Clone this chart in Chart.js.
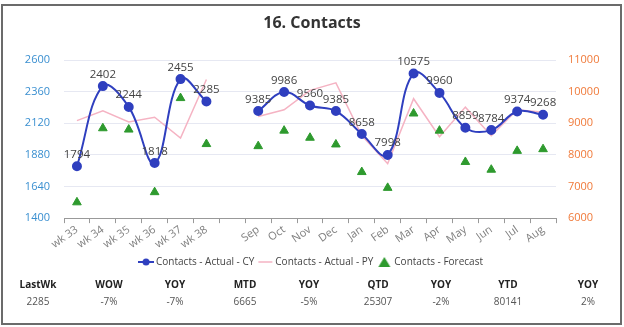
<!DOCTYPE html>
<html>
<head>
<meta charset="utf-8">
<script src="https://cdn.jsdelivr.net/npm/chart.js@4"></script>
<style>
  body { margin: 0; background: #fff; font-family: "Open Sans", "Noto Sans", sans-serif; }
  #frame { position: absolute; left: 1px; top: 4px; width: 617px; height: 317px; border: 2px solid #6b6b6b; }
  #title { position: absolute; left: 0; top: 11px; width: 624px; text-align: center; font-size: 16px; font-weight: bold; color: #333; }
  #wrap { position: absolute; left: 0; top: 0; width: 624px; height: 281px; }
  .kpi { position: absolute; width: 70px; text-align: center; font-size: 10px; }
  .kpi b { display: block; color: #222; }
  .kpi span { display: block; color: #555; margin-top: 3px; }
</style>
</head>
<body>
<div id="frame"></div>
<div id="wrap"><canvas id="contactsChart"></canvas></div>
<div id="title">16. Contacts</div>
<div id="kpis"></div>
<script>
// categories on the x axis (blank slot between weeks and months)
var categories = ['wk 33', 'wk 34', 'wk 35', 'wk 36', 'wk 37', 'wk 38', '',
    'Sep', 'Oct', 'Nov', 'Dec', 'Jan', 'Feb', 'Mar', 'Apr', 'May', 'Jun', 'Jul', 'Aug'];

// weekly values (left axis)
var weekCY = [1794, 2402, 2244, 1818, 2455, 2285];
var weekPY = [2140, 2214, 2130, 2166, 2008, 2452];
var weekForecast = [1520, 2082, 2072, 1597, 2311, 1962];

// monthly values (right axis)
var monthCY = [9385, 9986, 9560, 9385, 8658, 7998, 10575, 9960, 8859, 8784, 9374, 9268];
var monthPY = [9213, 9425, 10040, 10277, 8610, 7723, 9776, 8574, 9510, 8606, 9425, 9351];
var monthForecast = [8276, 8766, 8542, 8330, 7457, 6957, 9308, 8766, 7776, 7531, 8127, 8180];

// summary row under the chart
var kpiLabels = ['LastWk', 'WOW', 'YOY', 'MTD', 'YOY', 'QTD', 'YOY', 'YTD', 'YOY'];
var kpiValues = ['2285', '-7%', '-7%', '6665', '-5%', '25307', '-2%', '80141', '2%'];

var nWeeks = weekCY.length;
var nGap = categories.length - nWeeks - monthCY.length;

function asWeek(arr) {
    return arr.concat(new Array(categories.length - arr.length).fill(null));
}
function asMonth(arr) {
    return new Array(nWeeks + nGap).fill(null).concat(arr);
}

var cyColor = '#2f3fbf';
var pyColor = '#f5b3c3';
var fcColor = '#2e9a2e';

// little legend icons
function legendIcon(kind) {
    var c = document.createElement('canvas');
    c.width = 16; c.height = 10;
    var g = c.getContext('2d');
    if (kind === 'cy') {
        g.strokeStyle = cyColor; g.lineWidth = 2;
        g.beginPath(); g.moveTo(0, 5); g.lineTo(16, 5); g.stroke();
        g.fillStyle = cyColor;
        g.beginPath(); g.arc(8, 5, 3.5, 0, Math.PI * 2); g.fill();
    } else if (kind === 'py') {
        g.strokeStyle = pyColor; g.lineWidth = 1.5;
        g.beginPath(); g.moveTo(1, 5); g.lineTo(15, 5); g.stroke();
    } else {
        g.fillStyle = fcColor;
        g.beginPath(); g.moveTo(8, 0); g.lineTo(14, 10); g.lineTo(2, 10); g.closePath(); g.fill();
    }
    return c;
}

function cySet(data, axis, show) {
    return {
        label: 'Contacts - Actual - CY', data: data, yAxisID: axis, inLegend: show, icon: 'cy',
        borderColor: cyColor, backgroundColor: cyColor, borderWidth: 2,
        pointRadius: 4, pointHoverRadius: 4, tension: 0.4, showValues: true, order: 1
    };
}
function pySet(data, axis, show) {
    return {
        label: 'Contacts - Actual - PY', data: data, yAxisID: axis, inLegend: show, icon: 'py',
        borderColor: pyColor, backgroundColor: pyColor, borderWidth: 1.5,
        pointRadius: 0, tension: 0, order: 3
    };
}
function fcSet(data, axis, show) {
    return {
        label: 'Contacts - Forecast', data: data, yAxisID: axis, inLegend: show, icon: 'fc',
        borderColor: fcColor, backgroundColor: fcColor, showLine: false,
        pointStyle: 'triangle', pointRadius: 5, order: 2
    };
}

// draws the value above each CY point
var valueLabels = {
    id: 'valueLabels',
    afterDatasetsDraw: function(chart) {
        var ctx = chart.ctx;
        ctx.save();
        ctx.font = '11.5px "Open Sans", sans-serif';
        ctx.fillStyle = '#444';
        ctx.textAlign = 'center';
        ctx.textBaseline = 'bottom';
        chart.data.datasets.forEach(function(ds, i) {
            if (!ds.showValues) return;
            chart.getDatasetMeta(i).data.forEach(function(pt, j) {
                if (ds.data[j] == null) return;
                ctx.fillText(ds.data[j], pt.x, pt.y - 6);
            });
        });
        ctx.restore();
    }
};

var ctx = document.getElementById('contactsChart').getContext('2d');
var contactsChart = new Chart(ctx, {
    type: 'line',
    data: {
        labels: categories,
        datasets: [
            cySet(asWeek(weekCY), 'y', true),
            pySet(asWeek(weekPY), 'y', true),
            fcSet(asWeek(weekForecast), 'y', true),
            cySet(asMonth(monthCY), 'y1', false),
            pySet(asMonth(monthPY), 'y1', false),
            fcSet(asMonth(monthForecast), 'y1', false)
        ]
    },
    options: {
        responsive: true,
        maintainAspectRatio: false,
        animation: false,
        spanGaps: false,
        layout: { padding: { top: 60, left: 0, right: 0, bottom: 4 } },
        plugins: {
            tooltip: { enabled: false },
            legend: {
                position: 'bottom',
                labels: {
                    usePointStyle: true,
                    boxHeight: 10,
                    padding: 6,
                    color: '#444',
                    font: { size: 10, family: '"Open Sans", sans-serif' },
                    generateLabels: function(chart) {
                        return chart.data.datasets
                            .filter(function(ds) { return ds.inLegend; })
                            .map(function(ds, i) {
                                return {
                                    text: ds.label, pointStyle: legendIcon(ds.icon),
                                    fillStyle: ds.backgroundColor, strokeStyle: ds.borderColor,
                                    lineWidth: 0, hidden: false, datasetIndex: i, fontColor: '#444'
                                };
                            });
                    }
                }
            }
        },
        scales: {
            x: {
                offset: true,
                grid: { display: true, drawOnChartArea: false, drawTicks: true, tickLength: 5, offset: true, color: '#999' },
                border: { display: true, color: '#999' },
                ticks: { color: '#808080', minRotation: 35, maxRotation: 35, autoSkip: false, padding: 0,
                         font: { size: 11, family: '"Open Sans", sans-serif' } }
            },
            y: {
                position: 'left',
                min: 1400, max: 2600,
                ticks: { stepSize: 240, color: '#3a8fd0', padding: 14,
                         callback: function(v) { return String(v); },
                         font: { size: 11, family: '"Open Sans", sans-serif' } },
                grid: { color: '#e6e8f2', drawTicks: false },
                border: { display: false },
                afterFit: function(scale) { scale.width = 64; }
            },
            y1: {
                position: 'right',
                min: 6000, max: 11000,
                ticks: { stepSize: 1000, color: '#f07a3a', padding: 12,
                         callback: function(v) { return String(v); },
                         font: { size: 11, family: '"Open Sans", sans-serif' } },
                grid: { display: false, drawTicks: false },
                border: { display: false },
                afterFit: function(scale) { scale.width = 68; }
            }
        }
    },
    plugins: [valueLabels]
});

// summary row
var kpiX = [38, 109, 175, 245, 309, 378, 441, 508, 588];
var holder = document.getElementById('kpis');
kpiLabels.forEach(function(lab, i) {
    var d = document.createElement('div');
    d.className = 'kpi';
    d.style.left = (kpiX[i] - 35) + 'px';
    d.style.top = '277px';
    d.innerHTML = '<b>' + lab + '</b><span>' + kpiValues[i] + '</span>';
    holder.appendChild(d);
});
</script>
</body>
</html>
